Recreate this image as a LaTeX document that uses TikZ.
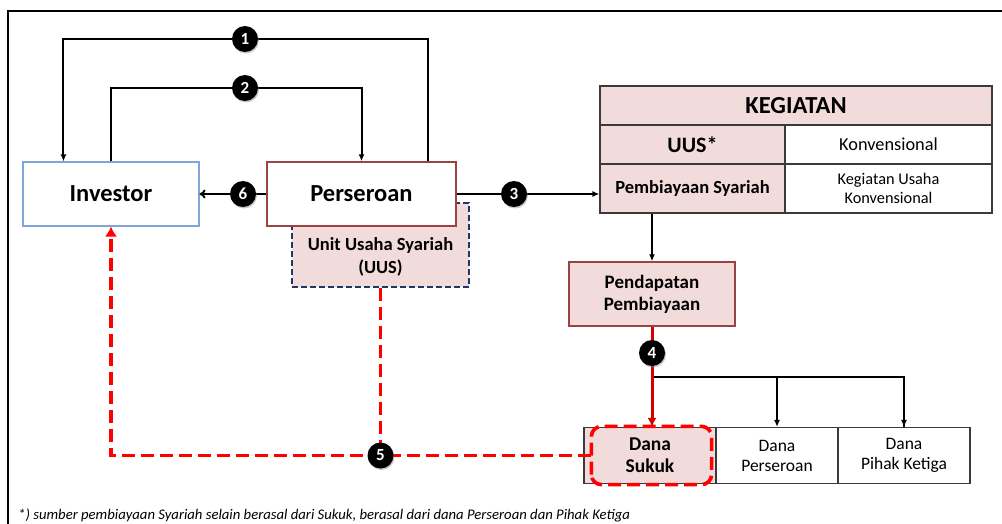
\documentclass[tikz,border=0pt]{standalone}
\usepackage{fontspec}
\setmainfont{Carlito}
\usetikzlibrary{arrows.meta,shadows,calc}
\definecolor{pinkfill}{HTML}{F2DCDB}
\definecolor{darkred}{HTML}{9B4341}
\definecolor{invblue}{HTML}{7FA6D6}
\definecolor{navy}{HTML}{1F3864}
\definecolor{tabgray}{HTML}{3A3A3A}
\definecolor{solidred}{HTML}{D40000}
\begin{document}
\begin{tikzpicture}[x=1pt,y=-1pt,
  mainbox/.style={draw, line width=1.4pt, minimum width=#1, minimum height=64pt, inner sep=0pt, align=center},
  cell/.style={draw=tabgray, line width=1.2pt, inner sep=0pt, align=center},
  conn/.style={line width=2pt, -{Latex[length=7pt,width=6pt]}},
  plain/.style={line width=2pt},
  reddash/.style={draw=red, line width=3.6pt, dash pattern=on 13pt off 6pt},
  num/.style={circle, fill=black, text=white, font=\bfseries\fontsize{17}{17}\selectfont, minimum size=26pt, inner sep=0pt,
     drop shadow={opacity=0.45, shadow xshift=1pt, shadow yshift=-1.5pt}}
]
\useasboundingbox (0,0) rectangle (1002,524);
% frame
\draw[line width=1.4pt] (8,524) -- (8,11) -- (1002,11);

% UUS box (behind Perseroan)
\node[draw=navy, fill=pinkfill, line width=1.4pt, dash pattern=on 6pt off 3pt, minimum width=177pt, minimum height=84pt, inner sep=0pt] (uus) at (380.5,245) {};
\node[font=\bfseries\fontsize{18.5}{23}\selectfont, align=center] (uustext) at (380.5,257) {Unit Usaha Syariah\\(UUS)};

% main boxes
\node[mainbox=176pt, draw=invblue, fill=white, line width=1.1pt, font=\bfseries\fontsize{24.5}{28}\selectfont] (inv) at (111,194) {Investor};
\node[mainbox=189pt, draw=darkred, fill=white, font=\bfseries\fontsize{24.5}{28}\selectfont] (per) at (361.5,194) {Perseroan};

% KEGIATAN table
\node[cell, fill=pinkfill, minimum width=392pt, minimum height=39pt, font=\bfseries\fontsize{24.5}{28}\selectfont] (keg) at (796,105.5) {KEGIATAN};
\node[cell, fill=pinkfill, minimum width=185pt, minimum height=39pt, font=\bfseries\fontsize{22}{26}\selectfont] (uuscell) at (692.5,144.5) {UUS*};
\node[cell, fill=white, minimum width=207pt, minimum height=39pt, font=\fontsize{18.3}{22}\selectfont] (konv) at (888.5,144.5) {Konvensional};
\node[cell, fill=pinkfill, minimum width=185pt, minimum height=49pt, font=\bfseries\fontsize{18.5}{22}\selectfont] (pemb) at (692.5,188.5) {Pembiayaan Syariah};
\node[cell, fill=white, minimum width=207pt, minimum height=49pt, font=\fontsize{16.3}{19}\selectfont] (kegu) at (888.5,188.5) {Kegiatan Usaha\\Konvensional};

% Pendapatan
\node[mainbox=166pt, draw=darkred, fill=pinkfill, font=\bfseries\fontsize{19}{22}\selectfont] (pend) at (652,294) {Pendapatan\\Pembiayaan};

% bottom table
\node[cell, fill=pinkfill, minimum width=132pt, minimum height=56pt, font=\bfseries\fontsize{19.5}{22}\selectfont] (sukuk) at (650,455.5) {Dana\\Sukuk};
\node[cell, fill=white, minimum width=122pt, minimum height=56pt, font=\fontsize{17.5}{20}\selectfont] (dper) at (777,455.5) {Dana\\Perseroan};
\node[cell, fill=white, minimum width=132pt, minimum height=56pt, font=\fontsize{17.5}{20}\selectfont] (dpk) at (904,455.5) {Dana\\Pihak Ketiga};
\draw[reddash, rounded corners=10pt] ([xshift=8pt,yshift=-0.5pt]sukuk.south west) rectangle ([xshift=-5pt,yshift=0.5pt]sukuk.north east);

% circle positions
\coordinate (k1) at (245,39);
\coordinate (k2) at (245,88);
\coordinate (k3) at (514,194);
\coordinate (k4) at (652,353);
\coordinate (k5) at (uus.south |- sukuk.west);
\coordinate (k6) at (243,194);
\coordinate (br) at ([yshift=-50pt]pend.south);

% connectors
\draw[conn] ([xshift=-29pt]per.north east) |- (k1) -| ([xshift=41pt]inv.north west);
\draw[conn] (inv.north) |- (k2) -| (per.north);
\draw[line width=2pt, -{To[length=6pt,width=9pt]}] (per.west) -- (inv.east);
\draw[conn] (per.east) -- (per.east -| pemb.west);
\draw[conn] (pend.north |- pemb.south) -- (pend.north);
\draw[plain] (br) -| (dpk.north);
\draw[conn] (br -| dpk.north) -- (dpk.north);
\draw[conn] (br -| dper.north) -- (dper.north);
\draw[line width=3pt, draw=solidred, -{Latex[length=9pt,width=9pt]}, color=solidred] (pend.south) -- (pend.south |- sukuk.north);
\draw[reddash] (uus.south) -- (k5);
\draw[reddash, -{Latex[length=10pt,width=12pt]}] ([xshift=8pt]sukuk.west) -| (inv.south);

% numbered circles
\node[num] (n1) at (k1) {1};
\node[num] (n2) at (k2) {2};
\node[num] (n3) at (k3) {3};
\node[num] (n4) at (k4) {4};
\node[num] (n5) at (k5) {5};
\node[num] (n6) at (k6) {6};

% footnote
\node[anchor=west, font=\itshape\fontsize{14.7}{17}\selectfont, inner sep=0pt] (foot) at (18,515) {*) sumber pembiayaan Syariah selain berasal dari Sukuk, berasal dari dana Perseroan dan Pihak Ketiga};
\end{tikzpicture}
\end{document}
